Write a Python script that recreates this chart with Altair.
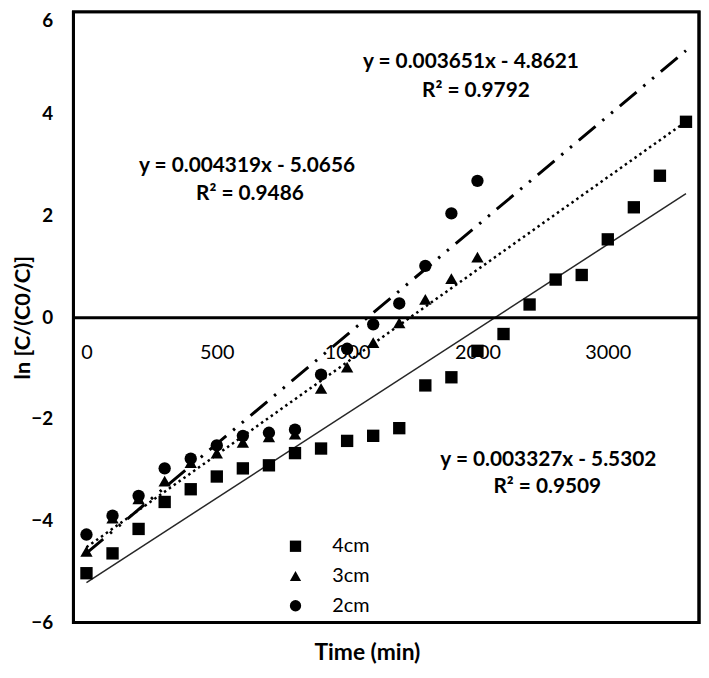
import altair as alt
import pandas as pd

# ---- data ----
time_4cm = list(range(0, 2400, 100))
ln_4cm = [-5.03, -4.64, -4.16, -3.63, -3.38, -3.13, -2.97, -2.91, -2.67, -2.58,
          -2.43, -2.33, -2.18, -1.34, -1.18, -0.66, -0.33, 0.25, 0.74, 0.83,
          1.53, 2.16, 2.78, 3.84]

time_3cm = list(range(0, 1600, 100))
ln_3cm = [-4.60, -3.95, -3.57, -3.22, -2.86, -2.67, -2.46, -2.35, -2.30, -1.40,
          -0.98, -0.50, -0.11, 0.35, 0.76, 1.18]

time_2cm = list(range(0, 1600, 100))
ln_2cm = [-4.27, -3.90, -3.51, -2.97, -2.78, -2.52, -2.33, -2.27, -2.21, -1.13,
          -0.62, -0.14, 0.27, 1.01, 2.04, 2.68]

series_names = ["4cm", "3cm", "2cm"]
series_shapes = ["square", "triangle-up", "circle"]

x_domain = [-50, 2350]
y_domain = [-6, 6]
x_tick_values = [0, 500, 1000, 1500, 2000]
x_tick_labels = ["0", "500", "1000", "2000", "3000"]
y_tick_values = [-6, -4, -2, 0, 2, 4, 6]

ann_text = ["y = 0.003651x - 4.8621", "R\u00b2 = 0.9792",
            "y = 0.004319x - 5.0656", "R\u00b2 = 0.9486",
            "y = 0.003327x - 5.5302", "R\u00b2 = 0.9509"]
ann_x = [1475, 1494, 616, 627, 1772, 1768]
ann_y = [5.01, 4.45, 2.97, 2.43, -2.80, -3.34]

# ---- tables ----
rows = []
for name, xs, ys in [("4cm", time_4cm, ln_4cm), ("3cm", time_3cm, ln_3cm), ("2cm", time_2cm, ln_2cm)]:
    for xv, yv in zip(xs, ys):
        rows.append({"time": xv, "ln": yv, "series": name})
df = pd.DataFrame(rows)
ann = pd.DataFrame({"text": ann_text, "x": ann_x, "y": ann_y})
frame = pd.DataFrame({"x0": [x_domain[0]], "x1": [x_domain[1]],
                      "y0": [y_domain[0]], "y1": [y_domain[1]]})

FONT = "Lato"
W, H = 631, 616
label_expr = "{" + ",".join(f"'{v}':'{t}'" for v, t in zip(x_tick_values, x_tick_labels)) + "}[datum.value]"

x_scale = alt.Scale(domain=x_domain, nice=False, zero=False)
y_scale = alt.Scale(domain=y_domain, nice=False)

x_axis = alt.Axis(
    values=x_tick_values, labelExpr=label_expr, offset=-H / 2,
    ticks=False, grid=False, domainColor="black", domainWidth=3,
    labelFont=FONT, labelFontSize=20, labelColor="black", labelPadding=26,
    title="Time (min)", titleFont=FONT, titleFontSize=23, titleFontWeight="bold",
    titleColor="black", titleX=296, titleY=338, titleBaseline="middle",
)
y_axis = alt.Axis(
    values=y_tick_values, ticks=False, grid=False, domain=False,
    labelFont=FONT, labelFontSize=19, labelFontWeight="bold", labelColor="black",
    labelPadding=21,
    labelOffset=alt.condition("datum.value == 6", alt.value(9), alt.value(0)),
    title="ln [C/(C0/C)]", titleFont=FONT, titleFontSize=22, titleFontWeight="bold",
    titleColor="black", titleX=-51, titleY=H / 2, titleBaseline="middle", titleAngle=-90,
)

base = alt.Chart(df)

border = alt.Chart(frame).mark_rect(fillOpacity=0, stroke="black", strokeWidth=3).encode(
    x=alt.X("x0:Q", scale=x_scale), x2="x1:Q",
    y=alt.Y("y0:Q", scale=y_scale), y2="y1:Q",
)

points = base.mark_point(filled=True, opacity=1, color="black", size=155).encode(
    x=alt.X("time:Q", scale=x_scale, axis=x_axis),
    y=alt.Y("ln:Q", scale=y_scale, axis=y_axis),
    shape=alt.Shape("series:N", scale=alt.Scale(domain=series_names, range=series_shapes),
                    legend=alt.Legend(title=None, orient="none", legendX=214, legendY=529,
                                      labelFont=FONT, labelFontSize=20, labelColor="black",
                                      symbolSize=130, symbolFillColor="black",
                                      symbolStrokeColor="black", labelOffset=27,
                                      rowPadding=10, padding=0)),
)

def trend(name, **mark_kw):
    return base.transform_filter(alt.datum.series == name).transform_regression(
        "time", "ln", extent=[0, 2300]
    ).mark_line(color="black", **mark_kw).encode(
        x=alt.X("time:Q", scale=x_scale),
        y=alt.Y("ln:Q", scale=y_scale),
    )

line4 = trend("4cm", strokeWidth=1.5, opacity=0.85)
line3 = trend("3cm", strokeWidth=2.5, strokeDash=[2.5, 3.5])
line2 = trend("2cm", strokeWidth=3, strokeDash=[22, 9, 2.5, 9, 2.5, 9])

labels = alt.Chart(ann).mark_text(font=FONT, fontSize=21, fontWeight="bold", color="black",
                                  align="center", baseline="middle").encode(
    x=alt.X("x:Q", scale=x_scale),
    y=alt.Y("y:Q", scale=y_scale),
    text="text:N",
)

chart = alt.layer(points, line4, line3, line2, labels, border).properties(
    width=W, height=H,
    autosize=alt.AutoSizeParams(type="none"),
    padding={"left": 66, "top": 1, "right": 2, "bottom": 53},
).configure_view(stroke="black", strokeWidth=3)

chart.save("out.html", embed_options={"renderer": "svg", "actions": False})
